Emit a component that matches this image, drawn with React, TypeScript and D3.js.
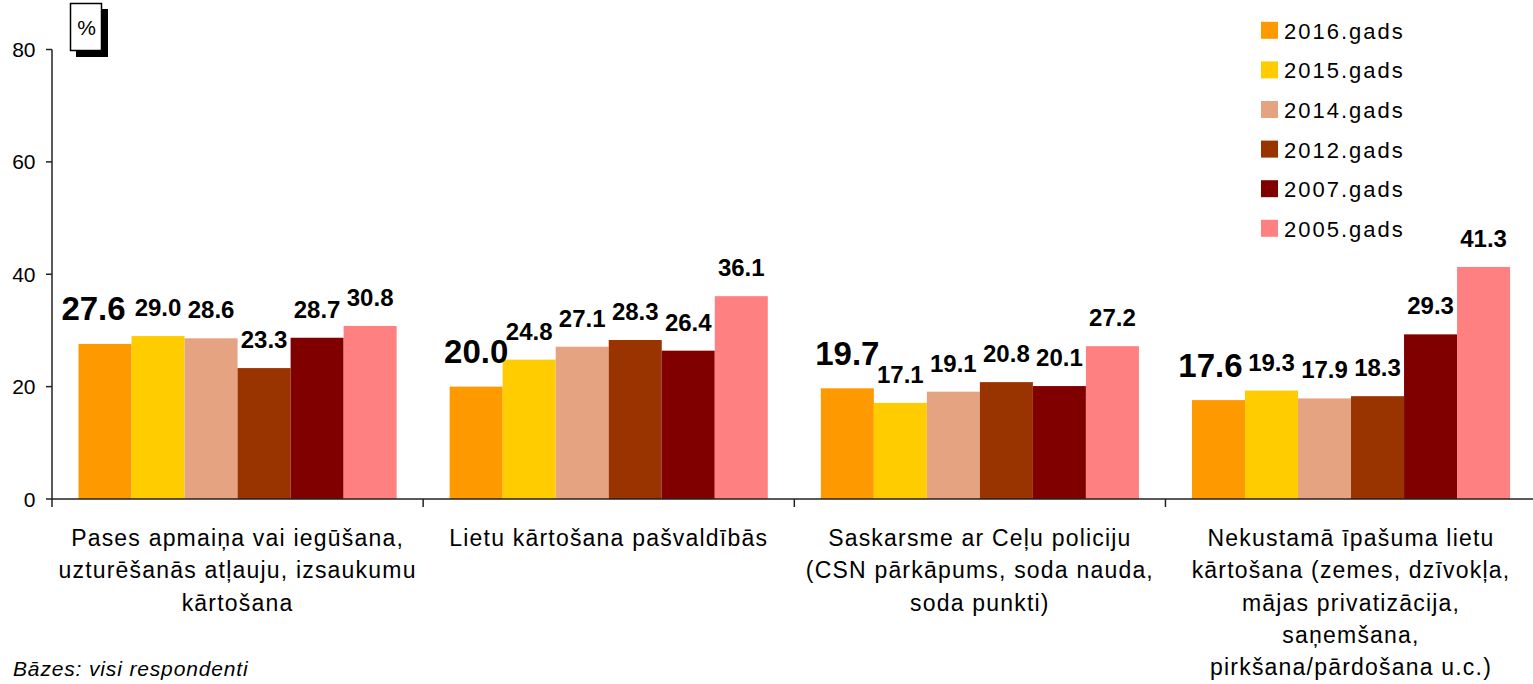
import React from "react";
import * as d3 from "d3";

const categories = [
  ["Pases apmaiņa vai iegūšana,", "uzturēšanās atļauju, izsaukumu", "kārtošana"],
  ["Lietu kārtošana pašvaldībās"],
  ["Saskarsme ar Ceļu policiju", "(CSN pārkāpums, soda nauda,", "soda punkti)"],
  ["Nekustamā īpašuma lietu", "kārtošana (zemes, dzīvokļa,", "mājas privatizācija,", "saņemšana,", "pirkšana/pārdošana u.c.)"],
];
const seriesNames = ["2016.gads", "2015.gads", "2014.gads", "2012.gads", "2007.gads", "2005.gads"];
const seriesColors = ["#FF9900", "#FFCC00", "#E5A381", "#993300", "#800000", "#FF8080"];
const v2016 = [27.6, 20.0, 19.7, 17.6];
const v2015 = [29.0, 24.8, 17.1, 19.3];
const v2014 = [28.6, 27.1, 19.1, 17.9];
const v2012 = [23.3, 28.3, 20.8, 18.3];
const v2007 = [28.7, 26.4, 20.1, 29.3];
const v2005 = [30.8, 36.1, 27.2, 41.3];
const seriesValues = [v2016, v2015, v2014, v2012, v2007, v2005];
const yTicks = [0, 20, 40, 60, 80];

const W = 1533;
const H = 684;
const FONT = "Arial, 'Liberation Sans', Helvetica, sans-serif";

export default function App() {
  const catKeys = categories.map((_, i) => String(i));
  const x0 = d3.scaleBand<string>().domain(catKeys).range([52, 1536.6]).paddingInner(0).paddingOuter(0);
  const x1 = d3.scaleBand<string>().domain(seriesNames).range([0, x0.bandwidth()]).paddingInner(0).paddingOuter(0.5);
  const y = d3.scaleLinear().domain([0, 80]).range([499, 49.5]);
  const axisColor = "#222";

  return (
    <svg width={W} height={H} style={{ position: "absolute", left: 0, top: 0, background: "#fff" }} fontFamily={FONT}>
      <rect x={0} y={0} width={W} height={H} fill="#fff" />
      {/* bars */}
      {seriesNames.map((s, si) =>
        catKeys.map((c, ci) => {
          const v = seriesValues[si][ci];
          const bx = (x0(c) as number) + (x1(s) as number);
          return (
            <rect key={s + c} x={bx} y={y(v)} width={x1.bandwidth()} height={y(0) - y(v)} fill={seriesColors[si]} />
          );
        })
      )}
      {/* value labels */}
      {seriesNames.map((s, si) =>
        catKeys.map((c, ci) => {
          const v = seriesValues[si][ci];
          const cx = (x0(c) as number) + (x1(s) as number) + x1.bandwidth() / 2;
          const big = si === 0;
          const shift = big ? [-11.5, 0, 0, -8][ci] : 0;
          return (
            <text
              key={"l" + s + c}
              x={cx + shift}
              y={y(v) - (big ? 23.5 : 20)}
              textAnchor="middle"
              fontWeight="bold"
              fontSize={big ? 33 : 24}
              fill="#000"
            >
              {v.toFixed(1)}
            </text>
          );
        })
      )}
      {/* x axis */}
      <line x1={52} x2={W} y1={y(0)} y2={y(0)} stroke={axisColor} strokeWidth={1.5} />
      {catKeys.slice(1).map((c) => (
        <line key={"t" + c} x1={x0(c)} x2={x0(c)} y1={y(0)} y2={y(0) + 8} stroke={axisColor} strokeWidth={1.5} />
      ))}
      {/* y axis */}
      <line x1={52} x2={52} y1={y(80)} y2={y(0) + 8} stroke={axisColor} strokeWidth={1.5} />
      {yTicks.map((t) => (
        <g key={"y" + t}>
          <line x1={46} x2={52} y1={y(t)} y2={y(t)} stroke={axisColor} strokeWidth={1.5} />
          <text x={35.5} y={y(t) + 7.5} textAnchor="end" fontSize={21} fill="#000">
            {t}
          </text>
        </g>
      ))}
      {/* category labels */}
      {categories.map((lines, ci) => {
        const cx = (x0(String(ci)) as number) + x0.bandwidth() / 2;
        return (
          <text key={"c" + ci} textAnchor="middle" fontSize={23} letterSpacing={1.2} fill="#000">
            {lines.map((ln, li) => (
              <tspan key={li} x={cx} y={546 + li * 32.3}>
                {ln}
              </tspan>
            ))}
          </text>
        );
      })}
      {/* % box */}
      <rect x={76} y={9} width={32} height={48} fill="#000" />
      <rect x={70.5} y={3.5} width={31} height={47} fill="#fff" stroke="#000" strokeWidth={1.5} />
      <text x={86.5} y={35} textAnchor="middle" fontSize={21} fill="#000">%</text>
      {/* legend */}
      {seriesNames.map((s, si) => {
        const cy = 30.3 + si * 39.6;
        return (
          <g key={"lg" + s}>
            <rect x={1261} y={cy - 8.5} width={17} height={17} fill={seriesColors[si]} />
            <text x={1284} y={cy + 8.5} fontSize={22} letterSpacing={2} fill="#000">
              {s}
            </text>
          </g>
        );
      })}
      {/* footer */}
      <text x={13} y={676} fontSize={21} fontStyle="italic" letterSpacing={0.85} fill="#000">
        Bāzes: visi respondenti
      </text>
    </svg>
  );
}
